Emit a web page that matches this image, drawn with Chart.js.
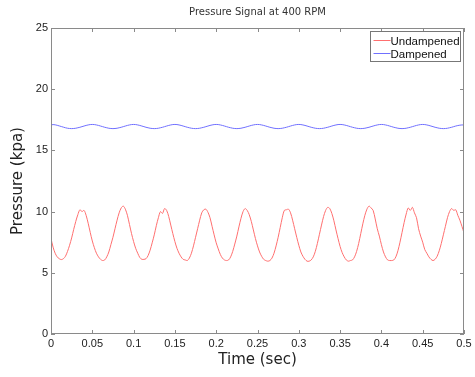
<!DOCTYPE html>
<html>
<head>
<meta charset="utf-8">
<script src="https://cdn.jsdelivr.net/npm/chart.js@4"></script>
<style>
  html, body { margin: 0; padding: 0; background: #fff; }
  #wrap { width: 475px; height: 377px; }
</style>
</head>
<body>
<div id="wrap"><canvas id="pressureChart" width="475" height="377"></canvas></div>
<script>
// sampling: one value every 2.5 ms, from 0 to 0.5 s
const sampleStep = 0.0025;
const xTicks = [0, 0.05, 0.1, 0.15, 0.2, 0.25, 0.3, 0.35, 0.4, 0.45, 0.5];
const yTicks = [0, 5, 10, 15, 20, 25];
const seriesNames = ['Undampened', 'Dampened'];

// values (kpa)
const undampened = [
  7.8, 7.1, 6.6, 6.3, 6.15,
  6.08, 6.15, 6.35, 6.75, 7.25, 7.85, 8.55, 9.2, 9.75, 10.15, 10.0, 10.1, 9.7, 9.05, 8.3, 7.6, 7.05, 6.6, 6.3, 6.1,
  6.0, 6.05, 6.3, 6.7, 7.3, 7.9, 8.6, 9.3, 9.9, 10.3, 10.45, 10.2, 9.7, 8.95, 8.2, 7.55, 7.0, 6.6, 6.25, 6.1,
  6.1, 6.15, 6.4, 6.85, 7.45, 8.1, 8.85, 9.5, 10.0, 9.85, 10.25, 10.1, 9.6, 8.9, 8.2, 7.55, 7.0, 6.6, 6.3, 6.1,
  6.05, 6.0, 6.2, 6.6, 7.2, 7.9, 8.6, 9.3, 9.9, 10.15, 10.2, 9.95, 9.5, 8.8, 8.1, 7.45, 6.95, 6.5, 6.2, 6.05,
  6.0, 6.05, 6.3, 6.75, 7.35, 8.0, 8.75, 9.45, 10.0, 10.25, 10.1, 9.75, 9.2, 8.5, 7.8, 7.2, 6.7, 6.35, 6.1, 6.0,
  5.95, 6.0, 6.2, 6.6, 7.2, 7.9, 8.7, 9.5, 10.1, 10.15, 10.2, 9.9, 9.3, 8.6, 7.9, 7.25, 6.7, 6.35, 6.1, 5.95,
  5.95, 6.05, 6.3, 6.75, 7.4, 8.15, 8.9, 9.6, 10.1, 10.35, 10.25, 9.85, 9.25, 8.5, 7.8, 7.15, 6.65, 6.3, 6.05, 5.95,
  6.0, 6.05, 6.3, 6.75, 7.4, 8.2, 9.0, 9.7, 10.2, 10.45, 10.3, 10.1, 9.4, 8.6, 8.0, 7.3, 6.7, 6.3, 6.05, 6.0,
  6.0, 6.05, 6.3, 6.8, 7.5, 8.3, 9.1, 9.8, 10.3, 10.1, 10.35, 9.9, 9.5, 8.6, 8.0, 7.5, 6.9, 6.6, 6.3, 6.1,
  6.0, 6.1, 6.35, 6.8, 7.4, 8.1, 8.8, 9.5, 10.0, 10.25, 10.1, 10.15, 9.7, 9.3, 8.8, 8.25
];

const dampened = [
  17.08, 17.11, 17.09, 17.05, 17.0, 16.95, 16.9, 16.85, 16.81, 16.79, 16.78, 16.79, 16.81, 16.85, 16.89, 16.94, 16.99, 17.04, 17.08, 17.11,
  17.12, 17.11, 17.08, 17.04, 16.99, 16.94, 16.89, 16.85, 16.81, 16.79, 16.78, 16.79, 16.81, 16.85, 16.89, 16.94, 16.99, 17.04, 17.08, 17.11,
  17.12, 17.11, 17.08, 17.04, 16.99, 16.94, 16.89, 16.85, 16.81, 16.79, 16.78, 16.79, 16.81, 16.85, 16.89, 16.94, 16.99, 17.04, 17.08, 17.11,
  17.12, 17.11, 17.08, 17.04, 16.99, 16.94, 16.89, 16.85, 16.81, 16.79, 16.78, 16.79, 16.81, 16.85, 16.89, 16.94, 16.99, 17.04, 17.08, 17.11,
  17.12, 17.11, 17.08, 17.04, 16.99, 16.94, 16.89, 16.85, 16.81, 16.79, 16.78, 16.79, 16.81, 16.85, 16.89, 16.94, 16.99, 17.04, 17.08, 17.11,
  17.12, 17.11, 17.08, 17.04, 16.99, 16.94, 16.89, 16.85, 16.81, 16.79, 16.78, 16.79, 16.81, 16.85, 16.89, 16.94, 16.99, 17.04, 17.08, 17.11,
  17.12, 17.11, 17.08, 17.04, 16.99, 16.94, 16.89, 16.85, 16.81, 16.79, 16.78, 16.79, 16.81, 16.85, 16.89, 16.94, 16.99, 17.04, 17.08, 17.11,
  17.12, 17.11, 17.08, 17.04, 16.99, 16.94, 16.89, 16.85, 16.81, 16.79, 16.78, 16.79, 16.81, 16.85, 16.89, 16.94, 16.99, 17.04, 17.08, 17.11,
  17.12, 17.11, 17.08, 17.04, 16.99, 16.94, 16.89, 16.85, 16.81, 16.79, 16.78, 16.79, 16.81, 16.85, 16.89, 16.94, 16.99, 17.04, 17.08, 17.11,
  17.12, 17.11, 17.08, 17.04, 16.99, 16.94, 16.89, 16.85, 16.81, 16.79, 16.78, 16.79, 16.81, 16.85, 16.89, 16.94, 16.99, 17.03, 17.06, 17.08,
  17.08
];

const seriesColors = ['#ff6f6f', '#7070ff'];
const tickFont = { family: '"Liberation Sans", Arial, sans-serif', size: 11 };
const titleFont = '"DejaVu Sans", sans-serif';

function toPoints(values) {
  return values.map((v, i) => ({ x: +(i * sampleStep).toFixed(4), y: v }));
}

function fmtTick(v) {
  return String(Number(v.toFixed(2)));
}

// MATLAB style: box, inward ticks on all sides, title, legend inside the axes
const matlabFrame = {
  id: 'matlabFrame',
  afterDraw(chart) {
    const { ctx, chartArea: a, scales } = chart;
    ctx.save();
    ctx.strokeStyle = '#8a8a8a';
    ctx.lineWidth = 1;
    ctx.strokeRect(Math.round(a.left) + 0.5, Math.round(a.top) + 0.5,
      Math.round(a.right - a.left) - 1, Math.round(a.bottom - a.top) - 1);

    ctx.beginPath();
    xTicks.forEach(v => {
      const px = Math.round(scales.x.getPixelForValue(v)) + 0.5;
      ctx.moveTo(px, a.bottom); ctx.lineTo(px, a.bottom - 4);
      ctx.moveTo(px, a.top); ctx.lineTo(px, a.top + 4);
    });
    yTicks.forEach(v => {
      const py = Math.round(scales.y.getPixelForValue(v)) + 0.5;
      ctx.moveTo(a.left, py); ctx.lineTo(a.left + 4, py);
      ctx.moveTo(a.right, py); ctx.lineTo(a.right - 4, py);
    });
    ctx.stroke();

    // title
    ctx.fillStyle = '#333';
    ctx.font = '10px ' + titleFont;
    ctx.textAlign = 'center';
    ctx.textBaseline = 'middle';
    ctx.fillText('Pressure Signal at 400 RPM', (a.left + a.right) / 2, 12);

    // legend
    const bw = 90, bh = 30;
    const bx = Math.round(a.right) - bw - 3.5, by = Math.round(a.top) + 3.5;
    ctx.fillStyle = '#fff';
    ctx.fillRect(bx, by, bw, bh);
    ctx.strokeStyle = '#777';
    ctx.strokeRect(bx, by, bw, bh);
    ctx.font = '11.5px "Liberation Sans", Arial, sans-serif';
    ctx.textAlign = 'left';
    chart.data.datasets.forEach((ds, i) => {
      const ly = Math.round(by + 8) + 0.5 + i * 13;
      ctx.strokeStyle = ds.borderColor;
      ctx.beginPath();
      ctx.moveTo(bx + 3, ly); ctx.lineTo(bx + 20, ly);
      ctx.stroke();
      ctx.fillStyle = '#111';
      ctx.fillText(ds.label, bx + 20, ly + 1);
    });
    ctx.restore();
  }
};

document.addEventListener('DOMContentLoaded', () => {
  new Chart(document.getElementById('pressureChart'), {
    type: 'line',
    data: {
      datasets: [
        { label: seriesNames[0], data: toPoints(undampened), borderColor: seriesColors[0], borderWidth: 1, pointRadius: 0, tension: 0.3 },
        { label: seriesNames[1], data: toPoints(dampened), borderColor: seriesColors[1], borderWidth: 1, pointRadius: 0, tension: 0.3 }
      ]
    },
    options: {
      responsive: false,
      animation: false,
      devicePixelRatio: 1,
      layout: { padding: { top: 28, right: 11, left: 0, bottom: 0 } },
      plugins: {
        legend: { display: false },
        title: { display: false },
        tooltip: { enabled: false }
      },
      scales: {
        x: {
          type: 'linear',
          min: 0,
          max: 0.5,
          afterBuildTicks: scale => { scale.ticks = xTicks.map(v => ({ value: v })); },
          afterFit: scale => { scale.height = 43; },
          grid: { display: false, drawTicks: false },
          border: { display: false },
          ticks: { color: '#222', font: tickFont, padding: 3, maxRotation: 0, autoSkip: false, callback: v => fmtTick(v) },
          title: { display: true, text: 'Time (sec)', color: '#222', font: { family: titleFont, size: 15 }, padding: { top: 0, bottom: 8 } }
        },
        y: {
          type: 'linear',
          min: 0,
          max: 25,
          afterBuildTicks: scale => { scale.ticks = yTicks.map(v => ({ value: v })); },
          afterFit: scale => { scale.width = 51; },
          grid: { display: false, drawTicks: false },
          border: { display: false },
          ticks: { color: '#222', font: tickFont, padding: 3, callback: v => fmtTick(v) },
          title: { display: true, text: 'Pressure (kpa)', color: '#222', font: { family: titleFont, size: 15 }, padding: { top: 9, bottom: 0 } }
        }
      }
    },
    plugins: [matlabFrame]
  });
});
</script>
</body>
</html>
